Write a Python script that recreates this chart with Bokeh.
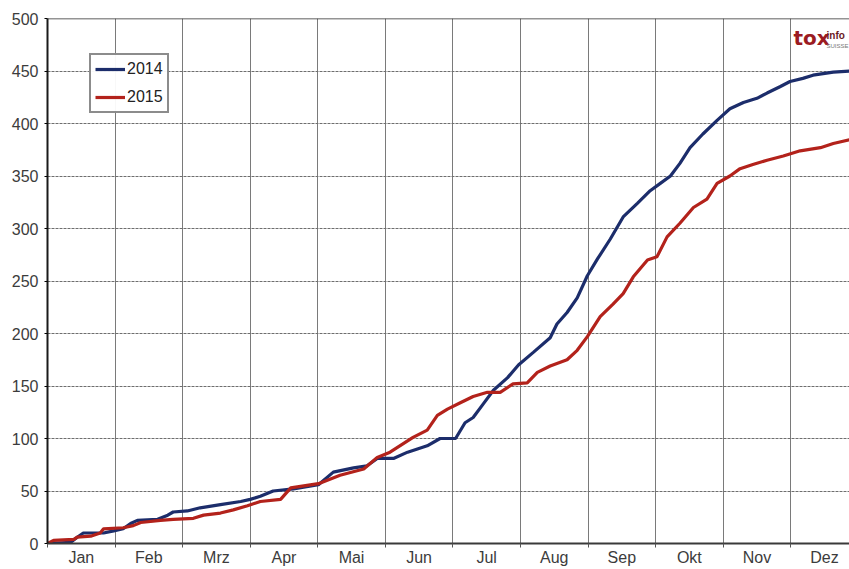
from bokeh.plotting import figure
from bokeh.models import FixedTicker, Span, Label, Legend, LegendItem, Range1d
from bokeh.embed import file_html
from bokeh.resources import INLINE

months = ["Jan", "Feb", "Mrz", "Apr", "Mai", "Jun", "Jul", "Aug", "Sep", "Okt", "Nov", "Dez"]
y_ticks = [0, 50, 100, 150, 200, 250, 300, 350, 400, 450, 500]

# x in months since 1 Jan (fractional), y = cumulative count
x2014 = [0, 0.34, 0.44, 0.53, 0.83, 0.98, 1.12, 1.23, 1.33, 1.63, 1.78, 1.86, 2.07, 2.26, 2.56,
         2.86, 3.00, 3.15, 3.34, 3.64, 4.01, 4.23, 4.53, 4.73, 4.88, 5.12, 5.33, 5.62, 5.81, 6.04,
         6.18, 6.30, 6.45, 6.60, 6.81, 6.97, 7.19, 7.44, 7.54, 7.69, 7.84, 7.99, 8.14, 8.33, 8.52,
         8.73, 8.92, 9.07, 9.22, 9.36, 9.51, 9.70, 9.91, 10.10, 10.30, 10.50, 10.65, 10.84, 10.99,
         11.18, 11.33, 11.63, 11.90]
y2014 = [0, 1, 6, 10, 10, 12, 14, 19, 22, 23, 27, 30, 31, 34, 37,
         40, 42, 45, 50, 52, 56, 68, 72, 74, 81, 81, 87, 93, 100, 100,
         115, 120, 133, 146, 158, 170, 182, 196, 209, 220, 234, 255, 271, 290, 311,
         324, 336, 343, 350, 362, 377, 390, 403, 414, 420, 424, 429, 435, 440,
         443, 446, 449, 450]

x2015 = [0, 0.09, 0.39, 0.44, 0.64, 0.78, 0.83, 1.12, 1.27, 1.38, 1.67, 1.86, 2.16, 2.31, 2.56,
         2.75, 2.96, 3.15, 3.45, 3.60, 4.01, 4.33, 4.68, 4.88, 5.07, 5.41, 5.62, 5.77, 5.92, 6.11,
         6.30, 6.51, 6.70, 6.89, 7.10, 7.25, 7.44, 7.69, 7.84, 7.99, 8.18, 8.37, 8.52, 8.67, 8.88,
         9.02, 9.17, 9.36, 9.56, 9.76, 9.91, 10.10, 10.25, 10.44, 10.65, 10.89, 11.14, 11.44, 11.63,
         11.90]
y2015 = [0, 3, 4, 6, 7, 10, 14, 15, 17, 20, 22, 23, 24, 27, 29,
         32, 36, 40, 42, 53, 57, 65, 71, 82, 87, 101, 108, 122, 128, 134,
         140, 144, 144, 152, 153, 163, 169, 175, 184, 197, 216, 228, 238, 254, 270,
         273, 292, 305, 320, 328, 343, 350, 357, 361, 365, 369, 374, 377, 381,
         385]

BLUE = "#1c2d6b"
RED = "#b3221b"
FONT = "Liberation Sans"

p = figure(width=849, height=568, output_backend="svg", toolbar_location=None,
           x_range=Range1d(0, 11.87), y_range=Range1d(0, 500),
           min_border_left=47, min_border_right=0, min_border_top=18, min_border_bottom=25)
p.outline_line_color = None
p.background_fill_color = "white"
p.border_fill_color = "white"

# grids
p.xgrid.ticker = FixedTicker(ticks=list(range(0, 13)))
p.xgrid.grid_line_color = "#7a7a7a"
p.xgrid.grid_line_width = 1
p.ygrid.ticker = FixedTicker(ticks=y_ticks)
p.ygrid.grid_line_color = "#6e6e6e"
p.ygrid.grid_line_dash = "3 1"
p.ygrid.grid_line_width = 1

p.add_layout(Span(location=500, dimension="width", line_color="#2a2a2a", line_width=1.5))

# x axis: labels centred in each month, ticks at month boundaries
p.xaxis.ticker = FixedTicker(ticks=[i + 0.5 for i in range(12)], minor_ticks=list(range(0, 13)))
p.xaxis.major_label_overrides = {i + 0.5: m for i, m in enumerate(months)}
p.xaxis.major_tick_line_color = None
p.xaxis.major_tick_out = 4
p.xaxis.major_tick_in = 0
p.xaxis.minor_tick_out = 4
p.xaxis.minor_tick_in = 0
p.xaxis.minor_tick_line_color = "#555555"
p.xaxis.axis_line_color = "#3a3a3a"
p.xaxis.axis_line_width = 2
p.xaxis.major_label_standoff = 1

p.yaxis.ticker = FixedTicker(ticks=y_ticks)
p.yaxis.major_tick_out = 3
p.yaxis.major_tick_in = 0
p.yaxis.minor_tick_line_color = None
p.yaxis.axis_line_color = "#1a1a1a"
p.yaxis.axis_line_width = 2
p.yaxis.major_label_standoff = 6

for ax in (p.xaxis, p.yaxis):
    ax.major_label_text_font = FONT
    ax.major_label_text_font_size = "16px"
    ax.major_label_text_color = "#3c3c3c"

r14 = p.line(x2014, y2014, line_color=BLUE, line_width=3.2)
r15 = p.line(x2015, y2015, line_color=RED, line_width=3.2)

legend = Legend(items=[LegendItem(label="2014", renderers=[r14]),
                       LegendItem(label="2015", renderers=[r15])],
                location=(42, 430))
legend.border_line_color = "#1a1a1a"
legend.border_line_width = 2
legend.background_fill_color = "white"
legend.label_text_font = FONT
legend.label_text_font_size = "16px"
legend.label_text_color = "#222222"
legend.glyph_width = 30
legend.glyph_height = 20
legend.label_height = 20
legend.label_standoff = 2
legend.spacing = 8
legend.padding = 4
legend.margin = 0
p.add_layout(legend, "center")

# logo text
p.add_layout(Label(x=11.04, y=470, text="tox", text_font="DejaVu Sans", text_font_style="bold",
                   text_font_size="20px", text_color="#9b1b22"))
p.add_layout(Label(x=11.53, y=479, text="info", text_font=FONT, text_font_style="bold",
                   text_font_size="10px", text_color="#6b1a1f"))
p.add_layout(Label(x=11.53, y=471, text="SUISSE", text_font=FONT,
                   text_font_size="6px", text_color="#777777"))

open("out.html", "w").write(file_html(p, INLINE))
